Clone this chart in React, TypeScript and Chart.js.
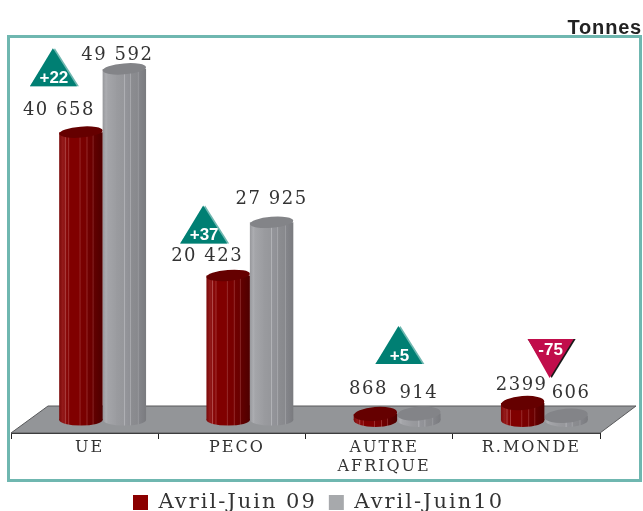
import React, { useEffect, useRef } from "react";
import { Chart, registerables } from "chart.js";

Chart.register(...registerables);

const categories = ["UE", "PECO", ["AUTRE", "AFRIQUE"], "R.MONDE"];
const seriesNames = ["Avril-Juin 09", "Avril-Juin10"];
const values09 = [40658, 20423, 868, 2399];
const values10 = [49592, 27925, 914, 606];
const valueLabels09 = ["40 658", "20 423", "868", "2399"];
const valueLabels10 = ["49 592", "27 925", "914", "606"];
const changes = ["+22", "+37", "+5", "-75"];

// Label placement relative to the top of each bar (dx, dy)
const labelOffsets09 = [[-22, -22], [-21, -19], [-7, -25], [-1, -18]];
const labelOffsets10 = [[-7, -14], [0, -23], [0, -20], [5, -22]];
// Badge apex placement relative to the top of the 09 bar (dx, dy)
const badgeOffsets = [[-26, -84], [-23, -70], [25, -88], [29, -64]];

const DEPTH_SHIFT = 18;
const RED_STOPS: [number, string][] = [
  [0, "#7a0808"], [0.08, "#941a1a"], [0.12, "#8c1212"], [0.14, "#b04a4a"], [0.16, "#8a0c0c"], [0.2, "#860404"],
  [0.22, "#a63a3a"], [0.24, "#800000"], [0.46, "#800000"], [0.48, "#9a3030"], [0.5, "#7a0000"], [0.62, "#780000"],
  [0.64, "#983030"], [0.66, "#700000"], [0.76, "#6a0000"], [0.78, "#8a2a2a"], [0.8, "#620000"], [0.9, "#580000"], [1, "#4e0000"],
];
const GRAY_STOPS: [number, string][] = [
  [0, "#96979b"], [0.08, "#acadb1"], [0.12, "#a4a5a9"], [0.3, "#9c9da1"], [0.32, "#9a9b9f"], [0.48, "#96979b"],
  [0.5, "#b4b5b9"], [0.52, "#94959a"], [0.62, "#909196"], [0.64, "#a8a9ad"], [0.66, "#8c8d91"], [0.8, "#88898d"],
  [0.82, "#9a9b9f"], [0.84, "#84858a"], [1, "#7a7b7f"],
];

function stripes(chart: any, x: number, w: number, stops: [number, string][]) {
  const g = chart.ctx.createLinearGradient(x - w / 2, 0, x + w / 2, 0);
  stops.forEach(([p, c]) => g.addColorStop(p, c));
  return g;
}

const scene = {
  id: "scene",
  beforeUpdate(chart: any) {
    chart.ctx.letterSpacing = "2px";
  },
  afterLayout(chart: any) {
    const l = chart.legend;
    l.left += 13;
    l.right += 13;
    l.top = 480;
    l.bottom = 511;
  },
  beforeDraw(chart: any) {
    const { ctx, width } = chart;
    ctx.letterSpacing = "2px";
    ctx.save();
    ctx.strokeStyle = "#6fb7b0";
    ctx.lineWidth = 3;
    ctx.strokeRect(8.5, 36.5, width - 11, 444);
    ctx.letterSpacing = "0.8px";
    ctx.font = "bold 20px 'Liberation Sans'";
    ctx.fillStyle = "#222";
    ctx.textAlign = "right";
    ctx.fillText("Tonnes", 642, 28);
    ctx.restore();
  },
  beforeDatasetsDraw(chart: any) {
    const { ctx, chartArea: a } = chart;
    ctx.save();
    ctx.beginPath();
    ctx.moveTo(a.left, a.bottom);
    ctx.lineTo(a.right, a.bottom);
    ctx.lineTo(a.right + 36, a.bottom - 27);
    ctx.lineTo(a.left + 37, a.bottom - 27);
    ctx.closePath();
    ctx.fillStyle = "#939598";
    ctx.fill();
    ctx.strokeStyle = "#58595b";
    ctx.lineWidth = 1;
    ctx.stroke();
    ctx.restore();
    ctx.save();
    ctx.translate(DEPTH_SHIFT, 0);
  },
  afterDatasetDraw(chart: any, args: any) {
    const { ctx, scales } = chart;
    const zero = scales.y.getPixelForValue(0);
    const top = args.index === 0 ? "#650000" : "#838488";
    args.meta.data.forEach((bar: any) => {
      const rx = bar.width / 2;
      const tall = zero - bar.y > 30;
      const ry = tall ? 5.5 : 7;
      ctx.save();
      ctx.fillStyle = bar.options.backgroundColor;
      ctx.beginPath();
      ctx.ellipse(bar.x, zero, rx, ry, 0, 0, Math.PI * 2);
      ctx.fill();
      ctx.fillStyle = top;
      ctx.beginPath();
      ctx.ellipse(bar.x, bar.y, rx, ry, -0.08, 0, Math.PI * 2);
      ctx.fill();
      ctx.restore();
    });
  },
  afterDatasetsDraw(chart: any) {
    const { ctx } = chart;
    ctx.restore();
    const metas = [chart.getDatasetMeta(0), chart.getDatasetMeta(1)];
    ctx.save();
    ctx.textAlign = "center";
    ctx.textBaseline = "middle";
    ctx.letterSpacing = "1.5px";
    ctx.font = "18px 'DejaVu Serif'";
    ctx.fillStyle = "#333";
    [valueLabels09, valueLabels10].forEach((labels, s) => {
      const off = s === 0 ? labelOffsets09 : labelOffsets10;
      labels.forEach((t, i) => {
        const b = metas[s].data[i];
        ctx.fillText(t, b.x + DEPTH_SHIFT + off[i][0], b.y + off[i][1]);
      });
    });
    ctx.letterSpacing = "0px";
    changes.forEach((t, i) => {
      const b = metas[0].data[i];
      const x = b.x + DEPTH_SHIFT + badgeOffsets[i][0];
      const y = b.y + badgeOffsets[i][1];
      const up = !t.startsWith("-");
      const edge = (dx: number, color: string) => {
        ctx.beginPath();
        if (up) {
          ctx.moveTo(x + dx, y);
          ctx.lineTo(x + 24 + dx, y + 38);
          ctx.lineTo(x - 25, y + 38);
        } else {
          ctx.moveTo(x - 24, y);
          ctx.lineTo(x + 24 + dx, y);
          ctx.lineTo(x + dx, y + 39);
        }
        ctx.closePath();
        ctx.fillStyle = color;
        ctx.fill();
      };
      edge(0, up ? "#6fb7b0" : "#1a1a1a");
      edge(-2, up ? "#007f73" : "#c10d4b");
      ctx.fillStyle = "#fff";
      ctx.font = "bold 17px 'Liberation Sans'";
      ctx.fillText(t, x - 1, up ? y + 30 : y + 11);
    });
    ctx.restore();
  },
};

export default function App() {
  const ref = useRef<HTMLCanvasElement>(null);
  useEffect(() => {
    const chart = new Chart(ref.current as any, {
      type: "bar",
      plugins: [scene],
      data: {
        labels: categories as any,
        datasets: [values09, values10].map((data, s) => ({
          label: seriesNames[s],
          data,
          clip: false as any,
          borderWidth: 0,
          categoryPercentage: 0.59,
          barPercentage: 1,
          backgroundColor: (c: any) => {
            const solid = s === 0 ? "#8b0000" : "#a7a9ac";
            if (!c.chart.chartArea || c.dataIndex === undefined) return solid;
            const step = c.chart.scales.x.getPixelForValue(1) - c.chart.scales.x.getPixelForValue(0);
            const w = (step * 0.59) / 2;
            const x = c.chart.scales.x.getPixelForValue(c.dataIndex) + (s === 0 ? -w / 2 : w / 2);
            return stripes(c.chart, x, w, s === 0 ? RED_STOPS : GRAY_STOPS);
          },
        })),
      },
      options: {
        animation: false,
        responsive: false,
        layout: { padding: { left: 11, right: 43, top: 40, bottom: -7 } },
        plugins: {
          tooltip: { enabled: false },
          legend: {
            position: "bottom",
            labels: {
              color: "#333",
              boxWidth: 15,
              boxHeight: 15,
              padding: 12,
              font: { family: "'DejaVu Serif'", size: 21 },
              generateLabels: () =>
                seriesNames.map((text, i) => ({
                  text,
                  fillStyle: i === 0 ? "#8b0000" : "#a7a9ac",
                  strokeStyle: "transparent",
                  lineWidth: 0,
                  datasetIndex: i,
                  fontColor: "#333",
                })),
            },
          },
        },
        scales: {
          x: {
            offset: true,
            afterFit: (s: any) => { s.height = 42; },
            border: { color: "#222", width: 1 },
            grid: { drawOnChartArea: false, drawTicks: true, tickLength: 6, color: "#222", offset: true },
            ticks: {
              color: "#333",
              padding: 0,
              maxRotation: 0,
              autoSkip: false,
              labelOffset: 5,
              font: { family: "'DejaVu Serif'", size: 16, lineHeight: 1.15 },
            },
          },
          y: { display: false, min: -1830, max: 53670 },
        },
      },
    } as any);
    return () => chart.destroy();
  }, []);
  return (
    <div style={{ position: "absolute", left: 0, top: 0, width: 643, height: 511 }}>
      <canvas ref={ref} width={643} height={511} style={{ display: "block" }} />
    </div>
  );
}
